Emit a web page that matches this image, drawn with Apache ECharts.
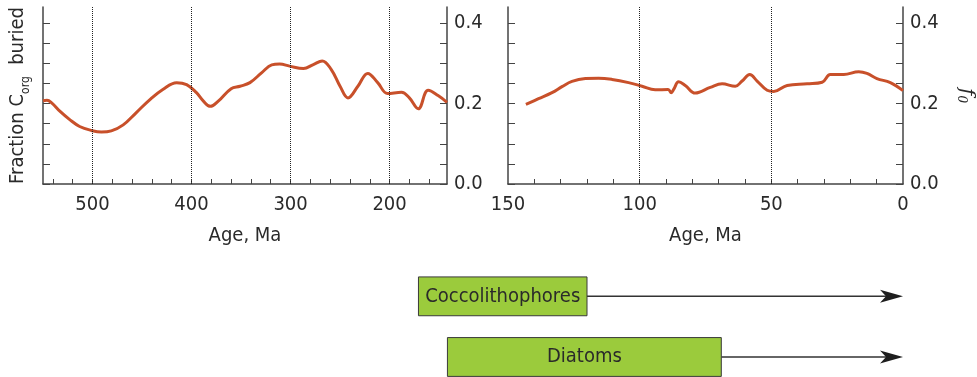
<!DOCTYPE html>
<html>
<head>
<meta charset="utf-8">
<script src="https://cdn.jsdelivr.net/npm/echarts@6/dist/echarts.min.js"></script>
<style>
  html, body { margin: 0; padding: 0; background: #fff; }
  #main { width: 977px; height: 377px; }
</style>
</head>
<body>
<div id="main"></div>
<script>
// left panel, 550 - 142 Ma
var oldAges = [550, 546, 541, 533, 523, 513, 501, 491, 481, 469, 456, 442, 429, 415, 405, 395, 388, 381, 373, 360,
  351, 341, 329, 319, 311, 301, 287, 277, 268, 259, 250, 242, 232, 222, 212, 202, 188, 180, 171, 161, 151, 142];
var oldValues = [0.207, 0.208, 0.201, 0.181, 0.160, 0.143, 0.133, 0.129, 0.132, 0.147, 0.177, 0.210, 0.235, 0.252, 0.247, 0.227, 0.206, 0.193, 0.206, 0.237,
  0.243, 0.252, 0.277, 0.296, 0.298, 0.293, 0.287, 0.297, 0.306, 0.285, 0.243, 0.214, 0.243, 0.275, 0.252, 0.225, 0.228, 0.214, 0.187, 0.233, 0.220, 0.203];

// right panel, 150 - 0 Ma
var youngAges = [143.2, 138.4, 133.3, 129.5, 125.7, 120.6, 115.6, 110.5, 104.2, 99.1, 94.1, 89.2, 88.0, 87.1, 85.2, 82.7, 78.9,
  73.2, 68.7, 63.7, 61.1, 58.2, 55.4, 51.6, 49.1, 44.0, 36.4, 30.7, 27.6, 22.5, 16.8, 13.7, 9.9, 4.8, 0];
var youngValues = [0.198, 0.212, 0.227, 0.242, 0.255, 0.262, 0.263, 0.260, 0.252, 0.243, 0.234, 0.235, 0.227, 0.235, 0.254, 0.245, 0.226,
  0.240, 0.249, 0.243, 0.256, 0.272, 0.256, 0.233, 0.230, 0.245, 0.249, 0.253, 0.272, 0.272, 0.279, 0.275, 0.262, 0.252, 0.232];

var oldTicks = [160, 180, 200, 220, 240, 260, 280, 300, 320, 340, 360, 380, 400, 420, 440, 460, 480, 500, 520, 540];
var oldLabels = [500, 400, 300, 200];
var youngTicks = [10, 20, 30, 40, 50, 60, 70, 80, 90, 100, 110, 120, 130, 140];
var youngLabels = [150, 100, 50, 0];
var yTicks = [0, 0.05, 0.1, 0.15, 0.2, 0.25, 0.3, 0.35, 0.4];
var yLabels = [0, 0.2, 0.4];

// first appearance bars
var groups = ['Coccolithophores', 'Diatoms'];
var groupStart = [184, 173];
var groupBoxEnd = [120, 69];
var groupArrowEnd = [0, 0];

var FONT = '"DejaVu Sans Condensed", "DejaVu Sans", sans-serif';
var AXIS_COLOR = '#444';
var TEXT_COLOR = '#2a2a2a';
var CURVE = '#c8502a';

function pairs(xs, ys) {
  return xs.map(function (x, i) { return [x, ys[i]]; });
}

function ageAxis(grid, min, max, ticks, labels) {
  return {
    type: 'value', gridIndex: grid, min: min, max: max, inverse: true,
    name: 'Age, Ma', nameLocation: 'middle', nameGap: 42,
    nameTextStyle: { fontFamily: FONT, fontSize: 20, color: TEXT_COLOR },
    axisLine: { show: true, lineStyle: { color: AXIS_COLOR, width: 1.5 } },
    axisTick: { show: true, inside: true, length: 5, customValues: ticks, lineStyle: { color: AXIS_COLOR } },
    axisLabel: { customValues: labels, margin: 11, fontFamily: FONT, fontSize: 20, color: TEXT_COLOR },
    splitLine: { show: false }
  };
}

function fracAxis(grid, pos, withLabels) {
  return {
    type: 'value', gridIndex: grid, position: pos, min: 0, max: 0.44,
    axisLine: { show: true, onZero: false, lineStyle: { color: AXIS_COLOR, width: 1.5 } },
    axisTick: { show: true, inside: true, length: 7, customValues: yTicks, lineStyle: { color: AXIS_COLOR } },
    axisLabel: {
      show: withLabels, customValues: yLabels, margin: 7,
      fontFamily: FONT, fontSize: 20, color: TEXT_COLOR,
      formatter: function (v) { return v.toFixed(1); }
    },
    splitLine: { show: false }
  };
}

function eraLines(values) {
  return {
    silent: true, symbol: 'none', animation: false,
    label: { show: false },
    lineStyle: { type: 'dotted', color: '#222', width: 1 },
    data: values.map(function (v) { return { xAxis: v }; })
  };
}

function renderGroup(params, api) {
  var row = api.value(0);
  var a = api.coord([api.value(1), row]);
  var b = api.coord([api.value(2), row]);
  var tip = api.coord([api.value(3), row]);
  var h = api.size([0, 1])[1] * 0.64;
  var y = a[1];
  var x0 = Math.min(a[0], b[0]);
  var x1 = Math.max(a[0], b[0]);
  var t = tip[0];
  return {
    type: 'group',
    children: [
      { type: 'line', shape: { x1: x1, y1: y, x2: t - 16, y2: y }, style: { stroke: '#333', lineWidth: 1.5 } },
      { type: 'polygon', shape: { points: [[t, y], [t - 23, y - 6.5], [t - 17, y], [t - 23, y + 6.5]] }, style: { fill: '#1e1e1e' } },
      { type: 'rect', shape: { x: x0, y: y - h / 2, width: x1 - x0, height: h }, style: { fill: '#9bcb3c', stroke: '#3a3a3a', lineWidth: 1 } },
      { type: 'text', style: { text: groups[params.dataIndex], x: (x0 + x1) / 2, y: y, align: 'center', verticalAlign: 'middle',
        fontFamily: FONT, fontSize: 20, fill: TEXT_COLOR } }
    ]
  };
}

var chart = echarts.init(document.getElementById('main'));

var left = fracAxis(0, 'left', false);
left.name = '{a|Fraction C}{s|org}{a|  buried}';
left.nameLocation = 'middle';
left.nameRotate = 90;
left.nameGap = 14;
left.nameTextStyle = {
  rich: {
    a: { fontFamily: FONT, fontSize: 20, color: TEXT_COLOR, lineHeight: 22 },
    s: { fontFamily: FONT, fontSize: 12, color: TEXT_COLOR, lineHeight: 22, verticalAlign: 'bottom', padding: [0, 0, -3, 0] }
  }
};

var right = fracAxis(1, 'right', true);
right.name = '{f|f}{s|0}';
right.nameLocation = 'middle';
right.nameRotate = -90;
right.nameGap = 52;
right.nameTextStyle = {
  rich: {
    f: { fontFamily: '"DejaVu Serif", serif', fontStyle: 'italic', fontSize: 20, color: TEXT_COLOR, lineHeight: 22 },
    s: { fontFamily: '"DejaVu Serif", serif', fontStyle: 'italic', fontSize: 12, color: TEXT_COLOR, lineHeight: 22, verticalAlign: 'bottom' }
  }
};

chart.setOption({
  animation: false,
  backgroundColor: '#fff',
  grid: [
    { left: 43, top: 7, width: 404, height: 177 },
    { left: 508, top: 7, width: 395, height: 177 },
    { left: 508, top: 266, width: 395, height: 111 }
  ],
  xAxis: [
    ageAxis(0, 142, 550, oldTicks, oldLabels),
    ageAxis(1, 0, 150, youngTicks, youngLabels),
    { type: 'value', gridIndex: 2, min: 0, max: 150, inverse: true, show: false }
  ],
  yAxis: [
    left,
    fracAxis(0, 'right', true),
    fracAxis(1, 'left', false),
    right,
    { type: 'value', gridIndex: 2, min: -0.5, max: 1.33, inverse: true, show: false }
  ],
  series: [
    {
      type: 'line', xAxisIndex: 0, yAxisIndex: 1, data: pairs(oldAges, oldValues),
      smooth: 0.4, showSymbol: false, lineStyle: { color: CURVE, width: 3 },
      markLine: eraLines(oldLabels)
    },
    {
      type: 'line', xAxisIndex: 1, yAxisIndex: 3, data: pairs(youngAges, youngValues),
      smooth: 0.4, showSymbol: false, lineStyle: { color: CURVE, width: 3 },
      markLine: eraLines([100, 50])
    },
    {
      type: 'custom', xAxisIndex: 2, yAxisIndex: 4, clip: false,
      data: groups.map(function (g, i) { return [i, groupStart[i], groupBoxEnd[i], groupArrowEnd[i]]; }),
      encode: { x: [1, 2, 3], y: 0 },
      renderItem: renderGroup
    }
  ]
});
</script>
</body>
</html>
